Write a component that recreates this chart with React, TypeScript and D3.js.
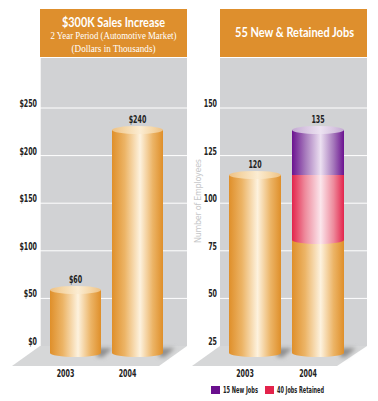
import React from "react";
import * as d3 from "d3";

const years = ["2003", "2004"];
const salesValues = [60, 240];
const salesLabels = ["$60", "$240"];
const salesTicks = [0, 50, 100, 150, 200, 250];

const jobsBase = [120, 80];
const jobsRetained = [0, 40];
const jobsNew = [0, 15];
const jobsLabels = ["120", "135"];
const jobsTicks = [25, 50, 75, 100, 125, 150];

const legendItems = [
  { label: "15 New Jobs", color: "#6a0f8e" },
  { label: "40 Jobs Retained", color: "#e3234b" },
];

const W = 378;
const H = 401;
const FLOOR_Y = 346;
const BOT = 353;
const RY = 4;

const axisFont = "'DejaVu Sans Condensed', 'DejaVu Sans', sans-serif";
const titleFont = "'Lato', 'DejaVu Sans', sans-serif";

function Cylinder({ x, w, top, bottom, grad, capGrad, bottomCap }: any) {
  return (
    <g>
      {bottomCap && <ellipse cx={x + w / 2} cy={bottom} rx={w / 2} ry={RY} fill={`url(#${grad})`} />}
      <rect x={x} y={top} width={w} height={bottom - top} fill={`url(#${grad})`} />
      {capGrad && <ellipse cx={x + w / 2} cy={top} rx={w / 2} ry={RY} fill={`url(#${capGrad})`} />}
    </g>
  );
}

function Grad({ id, edge, mid, light }: any) {
  return (
    <linearGradient id={id} x1="0" x2="1" y1="0" y2="0">
      <stop offset="0%" stopColor={edge} />
      <stop offset="25%" stopColor={mid} />
      <stop offset="55%" stopColor={light} />
      <stop offset="80%" stopColor={mid} />
      <stop offset="100%" stopColor={edge} />
    </linearGradient>
  );
}

function Lbl({ x, y, anchor, children, size = 10, perChar = 4.4 }: any) {
  const s = String(children);
  return (
    <text x={x} y={y} textAnchor={anchor} fontFamily={axisFont} fontSize={size} fontWeight={700} fill="#222"
      textLength={s.length * perChar} lengthAdjust="spacingAndGlyphs">{s}</text>
  );
}

export default function App() {
  // Left chart
  const lx0 = 40, lx1 = 187;
  const yL = d3.scaleLinear().domain([0, 250]).range([FLOOR_Y, 108]);
  const barL = d3.scaleLinear().domain([0, 60, 240]).range([BOT, 290, 130]);
  const xL = d3.scaleBand().domain(years).range([50, 163]).paddingInner(11 / 62).paddingOuter(0);

  // Right chart
  const rx0 = 220, rx1 = 367;
  const yR = d3.scaleLinear().domain([25, 150]).range([FLOOR_Y, 108]);
  const barR = d3.scaleLinear().domain([0, 80, 120, 135]).range([BOT, 240, 175, 130]);
  const xR = d3.scaleBand().domain(years).range([229, 344]).paddingInner(11 / 63).paddingOuter(0);

  const shadow = (x: number, w: number) =>
    `${x + w - 4},${FLOOR_Y + 2} ${x + w + 12},${FLOOR_Y + 2} ${x + w + 2},${BOT + 4} ${x + w - 4},${BOT + 4}`;

  return (
    <svg width={W} height={H} style={{ position: "absolute", left: 0, top: 0, background: "#fff" }}>
      <defs>
        <Grad id="gOr" edge="#df8f2a" mid="#ecb466" light="#fdf2de" />
        <Grad id="gOrCap" edge="#eec184" mid="#f5d7a8" light="#fbecd2" />
        <Grad id="gPu" edge="#6b1290" mid="#a577bb" light="#ece0f1" />
        <Grad id="gPuCap" edge="#c4a9d3" mid="#d8c6e1" light="#ece2f1" />
        <Grad id="gPk" edge="#e3244c" mid="#ee8a9c" light="#fbe6ec" />
        <filter id="blur" x="-50%" y="-50%" width="200%" height="200%">
          <feGaussianBlur stdDeviation="2" />
        </filter>
      </defs>

      {/* LEFT CHART */}
      <rect x={lx0} y={9} width={lx1 - lx0} height={48} fill="#de8f2d" />
      <text x={(lx0 + lx1) / 2} y={27} textAnchor="middle" fill="#fff" fontFamily={titleFont} fontSize={12.5} fontWeight={700} textLength={103} lengthAdjust="spacingAndGlyphs">$300K Sales Increase</text>
      <text x={(lx0 + lx1) / 2} y={39} textAnchor="middle" fill="#fff" fontFamily="'Liberation Serif', serif" fontSize={10} textLength={126} lengthAdjust="spacingAndGlyphs">2 Year Period (Automotive Market)</text>
      <text x={(lx0 + lx1) / 2} y={52} textAnchor="middle" fill="#fff" fontFamily="'Liberation Serif', serif" fontSize={10} textLength={84} lengthAdjust="spacingAndGlyphs">(Dollars in Thousands)</text>
      <rect x={lx0} y={58} width={lx1 - lx0} height={FLOOR_Y - 58} fill="#d1d2d4" />
      <line x1={lx0 + 0.5} x2={lx0 + 0.5} y1={58} y2={FLOOR_Y} stroke="#f2f2f2" strokeWidth={1} />
      {salesTicks.map((t) => (
        <g key={t}>
          {t > 0 && <line x1={lx0} x2={lx1} y1={yL(t)} y2={yL(t)} stroke="#fff" strokeWidth={1} />}
          <Lbl x={37} y={yL(t) - 1} anchor="end">{`$${t}`}</Lbl>
        </g>
      ))}
      <polygon points={`${lx0},${FLOOR_Y} ${lx1},${FLOOR_Y} 159,366 12,366`} fill="#d6d7d8" />
      {years.map((yr) => {
        const x = xL(yr)!;
        const w = xL.bandwidth();
        return <polygon key={"s" + yr} points={shadow(x, w)} fill="#8e8e8e" filter="url(#blur)" />;
      })}
      {years.map((yr, i) => {
        const x = xL(yr)!;
        const w = xL.bandwidth();
        const top = barL(salesValues[i]);
        return (
          <g key={yr}>
            <Cylinder x={x} w={w} top={top} bottom={BOT} grad="gOr" capGrad="gOrCap" bottomCap />
            <Lbl x={x + w / 2} y={top - 7} anchor="middle">{salesLabels[i]}</Lbl>
            <Lbl x={x + w / 2 - 10} y={377} anchor="middle">{yr}</Lbl>
          </g>
        );
      })}

      {/* RIGHT CHART */}
      <rect x={rx0} y={9} width={rx1 - rx0} height={48} fill="#de8f2d" />
      <text x={294.5} y={37} textAnchor="middle" fill="#fff" fontFamily={titleFont} fontSize={12.5} fontWeight={700} textLength={119} lengthAdjust="spacingAndGlyphs">55 New &amp; Retained Jobs</text>
      <rect x={rx0} y={58} width={rx1 - rx0} height={FLOOR_Y - 58} fill="#d1d2d4" />
      {jobsTicks.map((t) => (
        <g key={t}>
          {t > 25 && <line x1={rx0} x2={rx1} y1={yR(t)} y2={yR(t)} stroke="#fff" strokeWidth={1} />}
          <Lbl x={217} y={yR(t) - 1} anchor="end">{String(t)}</Lbl>
        </g>
      ))}
      <text transform="translate(201,201) rotate(-90)" textAnchor="middle" fontFamily="'DejaVu Sans', sans-serif" fontSize={8} fill="#c6c7c9" textLength={84} lengthAdjust="spacing">Number of Employees</text>
      <polygon points={`${rx0},${FLOOR_Y} ${rx1},${FLOOR_Y} 337,366 192,366`} fill="#d6d7d8" />
      {years.map((yr) => {
        const x = xR(yr)!;
        const w = xR.bandwidth();
        return <polygon key={"s" + yr} points={shadow(x, w)} fill="#8e8e8e" filter="url(#blur)" />;
      })}
      {years.map((yr, i) => {
        const x = xR(yr)!;
        const w = xR.bandwidth();
        const b = jobsBase[i];
        const r = b + jobsRetained[i];
        const n = r + jobsNew[i];
        const topBase = barR(b);
        const topRet = barR(r);
        const topNew = barR(n);
        return (
          <g key={yr}>
            <Cylinder x={x} w={w} top={topBase} bottom={BOT} grad="gOr" capGrad={jobsRetained[i] === 0 ? "gOrCap" : null} bottomCap />
            {jobsRetained[i] > 0 && (
              <g>
                <Cylinder x={x} w={w} top={topRet} bottom={topBase} grad="gPk" capGrad={null} />
                <ellipse cx={x + w / 2} cy={topBase} rx={w / 2} ry={RY} fill="url(#gPk)" />
              </g>
            )}
            {jobsNew[i] > 0 && <Cylinder x={x} w={w} top={topNew} bottom={topRet} grad="gPu" capGrad="gPuCap" />}
            <Lbl x={x + w / 2} y={topNew - 7} anchor="middle">{jobsLabels[i]}</Lbl>
            <Lbl x={x + w / 2 - 10} y={377} anchor="middle">{yr}</Lbl>
          </g>
        );
      })}

      {/* Legend */}
      {legendItems.map((it, i) => {
        const lx = i === 0 ? 211 : 265;
        const len = i === 0 ? 35 : 47;
        return (
          <g key={it.label}>
            <rect x={lx} y={386} width={9} height={8} fill={it.color} />
            <text x={lx + 12} y={393} fontFamily={axisFont} fontSize={8} fontWeight={600} fill="#222" textLength={len} lengthAdjust="spacingAndGlyphs">{it.label}</text>
          </g>
        );
      })}
    </svg>
  );
}
